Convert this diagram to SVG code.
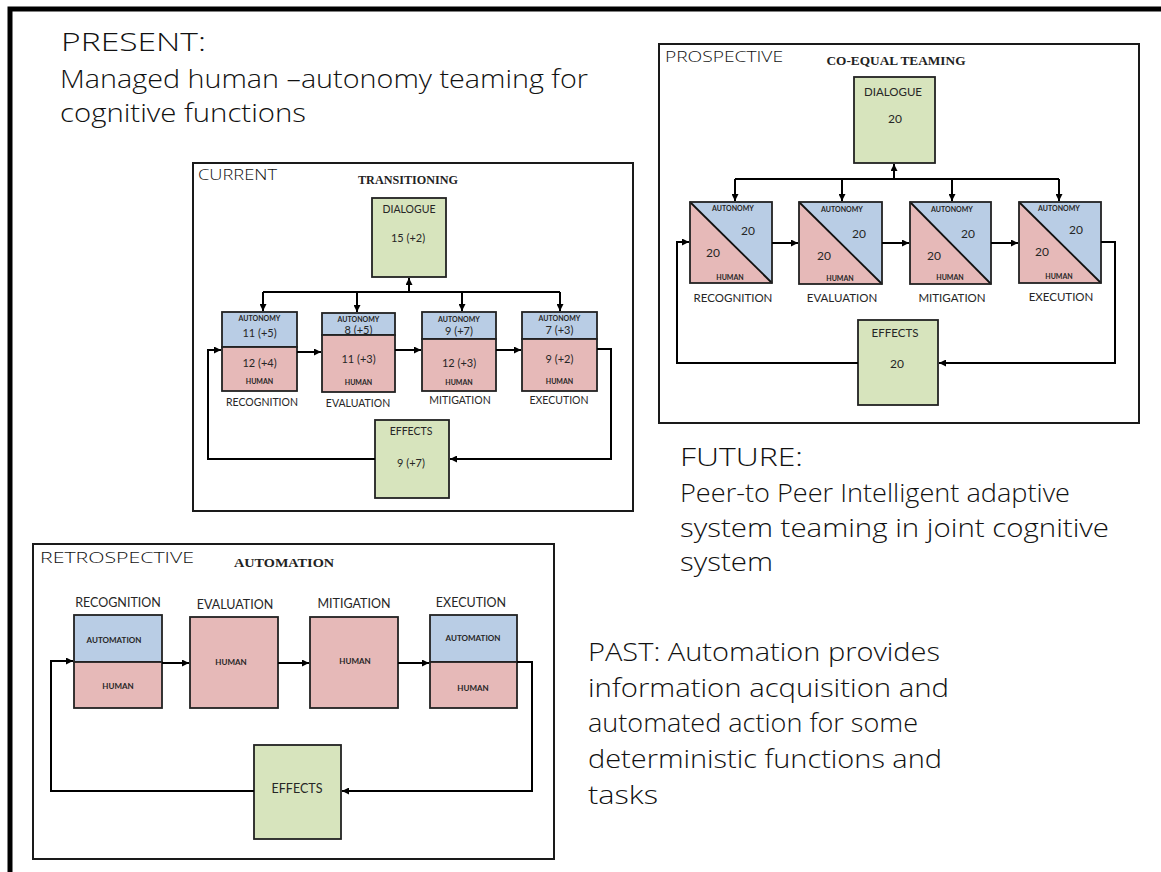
<svg xmlns="http://www.w3.org/2000/svg" width="1161" height="872" viewBox="0 0 1161 872">
  <defs>
    <marker id="ah" viewBox="0 0 8 8" refX="8" refY="4" markerWidth="7" markerHeight="7" orient="auto" markerUnits="userSpaceOnUse">
      <path d="M0,0 L8,4 L0,8 z" fill="#000"/>
    </marker>
  </defs>
  <style>
    .hand { font-family: "Open Sans", "DejaVu Sans", sans-serif; font-weight: 300; fill: #111; }
    .big { font-size: 25px; }
    .tag { font-size: 14px; }
    .title { font-family: "Liberation Serif", serif; font-weight: bold; fill: #222; }
    .panel { fill: #fff; stroke: #1a1a1a; stroke-width: 2; }
    .box { stroke: #222; stroke-width: 1.8; }
    .blue { fill: #b9cde5; }
    .pink { fill: #e6b9b8; }
    .green { fill: #d7e4bd; }
    .t { font-family: Lato, "Liberation Sans", sans-serif; fill: #262626; text-anchor: middle; dominant-baseline: central; }
    .tiny { font-size: 7px; font-weight: bold; }
    .small { font-size: 8px; font-weight: bold; }
    .n11 { font-size: 11px; }
    .n12 { font-size: 12px; }
    .lab105 { font-size: 10.5px; }
    .lab115 { font-size: 11.5px; }
    .lab125 { font-size: 12.5px; }
    .wire { fill: none; stroke: #000; stroke-width: 2; }
    .arrow { marker-end: url(#ah); }
  </style>

  <rect width="1161" height="872" fill="#fff"/>
  <!-- outer frame (top and left edges) -->
  <path d="M10,872 V9 H1161" fill="none" stroke="#000" stroke-width="5"/>

  <!-- headline texts -->
  <g id="present-text" class="hand big">
    <text x="61" y="51" textLength="145" lengthAdjust="spacingAndGlyphs">PRESENT:</text>
    <text x="60" y="88" textLength="528" lengthAdjust="spacingAndGlyphs">Managed human –autonomy teaming for</text>
    <text x="60" y="122" textLength="246" lengthAdjust="spacingAndGlyphs">cognitive functions</text>
  </g>
  <g id="future-text" class="hand big">
    <text x="680" y="466" textLength="123" lengthAdjust="spacingAndGlyphs">FUTURE:</text>
    <text x="680" y="502" textLength="390" lengthAdjust="spacingAndGlyphs">Peer-to Peer Intelligent adaptive</text>
    <text x="680" y="537" textLength="429" lengthAdjust="spacingAndGlyphs">system teaming in joint cognitive</text>
    <text x="680" y="571" textLength="93" lengthAdjust="spacingAndGlyphs">system</text>
  </g>
  <g id="past-text" class="hand big">
    <text x="588" y="661" textLength="352" lengthAdjust="spacingAndGlyphs">PAST: Automation provides</text>
    <text x="588" y="697" textLength="361" lengthAdjust="spacingAndGlyphs">information acquisition and</text>
    <text x="588" y="732" textLength="330" lengthAdjust="spacingAndGlyphs">automated action for some</text>
    <text x="588" y="768" textLength="354" lengthAdjust="spacingAndGlyphs">deterministic functions and</text>
    <text x="588" y="804" textLength="70" lengthAdjust="spacingAndGlyphs">tasks</text>
  </g>

  <!-- ===== CURRENT panel ===== -->
  <g id="current-panel">
    <rect class="panel" x="193" y="163" width="440" height="348"/>
    <text class="hand tag" x="198" y="180" textLength="79" lengthAdjust="spacingAndGlyphs">CURRENT</text>
    <text class="title" x="408" y="184" font-size="11.5" text-anchor="middle" textLength="100" lengthAdjust="spacingAndGlyphs">TRANSITIONING</text>
  </g>
  <g id="cur-dialogue">
    <rect class="box green" x="372" y="198" width="74" height="79"/>
    <text class="t lab105" x="409" y="209">DIALOGUE</text>
    <text class="t n11" x="408" y="237">15 (+2)</text>
  </g>
  <g id="cur-recognition">
    <rect class="box blue" x="222" y="312" width="75" height="35"/>
    <rect class="box pink" x="222" y="347" width="75" height="44"/>
    <text class="t tiny" x="259.5" y="318">AUTONOMY</text>
    <text class="t n11" x="259.5" y="332">11 (+5)</text>
    <text class="t n11" x="259.5" y="362">12 (+4)</text>
    <text class="t tiny" x="259.5" y="381">HUMAN</text>
    <text class="t lab105" x="262" y="402">RECOGNITION</text>
  </g>
  <g id="cur-evaluation">
    <rect class="box blue" x="322" y="313" width="73" height="22"/>
    <rect class="box pink" x="322" y="335" width="73" height="57"/>
    <text class="t tiny" x="358.5" y="319">AUTONOMY</text>
    <text class="t n11" x="358.5" y="329">8 (+5)</text>
    <text class="t n11" x="358.5" y="358">11 (+3)</text>
    <text class="t tiny" x="358.5" y="382">HUMAN</text>
    <text class="t lab105" x="358" y="403">EVALUATION</text>
  </g>
  <g id="cur-mitigation">
    <rect class="box blue" x="422" y="312" width="74" height="27"/>
    <rect class="box pink" x="422" y="339" width="74" height="52"/>
    <text class="t tiny" x="459" y="319">AUTONOMY</text>
    <text class="t n11" x="459" y="330">9 (+7)</text>
    <text class="t n11" x="459" y="362">12 (+3)</text>
    <text class="t tiny" x="459" y="382">HUMAN</text>
    <text class="t lab105" x="460" y="400">MITIGATION</text>
  </g>
  <g id="cur-execution">
    <rect class="box blue" x="522" y="312" width="75" height="27"/>
    <rect class="box pink" x="522" y="339" width="75" height="52"/>
    <text class="t tiny" x="559.5" y="318">AUTONOMY</text>
    <text class="t n11" x="559.5" y="329">7 (+3)</text>
    <text class="t n11" x="559.5" y="358">9 (+2)</text>
    <text class="t tiny" x="559.5" y="381">HUMAN</text>
    <text class="t lab105" x="559" y="400">EXECUTION</text>
  </g>
  <g id="cur-effects">
    <rect class="box green" x="375" y="420" width="74" height="78"/>
    <text class="t lab105" x="411" y="431">EFFECTS</text>
    <text class="t n11" x="411" y="462">9 (+7)</text>
  </g>

  <!-- ===== PROSPECTIVE panel ===== -->
  <g id="prospective-panel">
    <rect class="panel" x="659" y="44" width="480" height="379"/>
    <text class="hand tag" x="665" y="62" textLength="118" lengthAdjust="spacingAndGlyphs">PROSPECTIVE</text>
    <text class="title" x="896" y="65" font-size="12.5" text-anchor="middle" textLength="139" lengthAdjust="spacingAndGlyphs">CO-EQUAL TEAMING</text>
  </g>
  <g id="pro-dialogue">
    <rect class="box green" x="854" y="77" width="81" height="86"/>
    <text class="t lab115" x="893" y="91">DIALOGUE</text>
    <text class="t n12" x="895" y="118">20</text>
  </g>
  <g id="pro-recognition">
    <polygon class="pink" points="690,202 690,283 772,283"/>
    <polygon class="blue" points="690,202 772,202 772,283"/>
    <line x1="690" y1="202" x2="772" y2="283" stroke="#111" stroke-width="1.8"/>
    <rect class="box" fill="none" x="690" y="202" width="82" height="81"/>
    <text class="t tiny" x="733" y="208">AUTONOMY</text>
    <text class="t n12" x="748" y="230">20</text>
    <text class="t n12" x="713" y="252">20</text>
    <text class="t tiny" x="730" y="277">HUMAN</text>
    <text class="t lab115" x="733" y="297">RECOGNITION</text>
  </g>
  <g id="pro-evaluation">
    <polygon class="pink" points="799,202 799,284 882,284"/>
    <polygon class="blue" points="799,202 882,202 882,284"/>
    <line x1="799" y1="202" x2="882" y2="284" stroke="#111" stroke-width="1.8"/>
    <rect class="box" fill="none" x="799" y="202" width="83" height="82"/>
    <text class="t tiny" x="842" y="209">AUTONOMY</text>
    <text class="t n12" x="859" y="233">20</text>
    <text class="t n12" x="824" y="255">20</text>
    <text class="t tiny" x="840" y="278">HUMAN</text>
    <text class="t lab115" x="842" y="297">EVALUATION</text>
  </g>
  <g id="pro-mitigation">
    <polygon class="pink" points="910,202 910,284 991,284"/>
    <polygon class="blue" points="910,202 991,202 991,284"/>
    <line x1="910" y1="202" x2="991" y2="284" stroke="#111" stroke-width="1.8"/>
    <rect class="box" fill="none" x="910" y="202" width="81" height="82"/>
    <text class="t tiny" x="952" y="209">AUTONOMY</text>
    <text class="t n12" x="968" y="233">20</text>
    <text class="t n12" x="934" y="255">20</text>
    <text class="t tiny" x="950" y="277">HUMAN</text>
    <text class="t lab115" x="952" y="297">MITIGATION</text>
  </g>
  <g id="pro-execution">
    <polygon class="pink" points="1019,202 1019,283 1101,283"/>
    <polygon class="blue" points="1019,202 1101,202 1101,283"/>
    <line x1="1019" y1="202" x2="1101" y2="283" stroke="#111" stroke-width="1.8"/>
    <rect class="box" fill="none" x="1019" y="202" width="82" height="81"/>
    <text class="t tiny" x="1059" y="208">AUTONOMY</text>
    <text class="t n12" x="1076" y="229">20</text>
    <text class="t n12" x="1042" y="251">20</text>
    <text class="t tiny" x="1059" y="276">HUMAN</text>
    <text class="t lab115" x="1061" y="296">EXECUTION</text>
  </g>
  <g id="pro-effects">
    <rect class="box green" x="858" y="320" width="80" height="85"/>
    <text class="t lab115" x="895" y="332">EFFECTS</text>
    <text class="t n12" x="897" y="363">20</text>
  </g>

  <!-- ===== RETROSPECTIVE panel ===== -->
  <g id="retrospective-panel">
    <rect class="panel" x="33" y="544" width="521" height="315"/>
    <text class="hand tag" x="40" y="563" textLength="154" lengthAdjust="spacingAndGlyphs">RETROSPECTIVE</text>
    <text class="title" x="284" y="567" font-size="13" text-anchor="middle" textLength="100" lengthAdjust="spacingAndGlyphs">AUTOMATION</text>
  </g>
  <g id="ret-recognition">
    <rect class="box blue" x="74" y="615" width="88" height="47"/>
    <rect class="box pink" x="74" y="662" width="88" height="46"/>
    <text class="t small" x="114" y="640">AUTOMATION</text>
    <text class="t small" x="118" y="686">HUMAN</text>
    <text class="t lab125" x="118" y="602">RECOGNITION</text>
  </g>
  <g id="ret-evaluation">
    <rect class="box pink" x="190" y="617" width="88" height="91"/>
    <text class="t small" x="231" y="662">HUMAN</text>
    <text class="t lab125" x="235" y="604">EVALUATION</text>
  </g>
  <g id="ret-mitigation">
    <rect class="box pink" x="310" y="617" width="88" height="91"/>
    <text class="t small" x="355" y="661">HUMAN</text>
    <text class="t lab125" x="354" y="603">MITIGATION</text>
  </g>
  <g id="ret-execution">
    <rect class="box blue" x="430" y="615" width="87" height="47"/>
    <rect class="box pink" x="430" y="662" width="87" height="46"/>
    <text class="t small" x="473" y="638">AUTOMATION</text>
    <text class="t small" x="473" y="688">HUMAN</text>
    <text class="t lab125" x="471" y="602">EXECUTION</text>
  </g>
  <g id="ret-effects">
    <rect class="box green" x="254" y="745" width="87" height="94"/>
    <text class="t lab125" x="297" y="788">EFFECTS</text>
  </g>

  <!-- ===== connectors ===== -->
  <g id="connectors" class="wire">
    <!-- current -->
    <path class="arrow" d="M409,292 V278"/>
    <path d="M263,292 H560"/>
    <path class="arrow" d="M263,292 V311"/>
    <path class="arrow" d="M357,292 V312"/>
    <path class="arrow" d="M462,292 V311"/>
    <path class="arrow" d="M560,292 V311"/>
    <path class="arrow" d="M297,352 H321"/>
    <path class="arrow" d="M395,350 H421"/>
    <path class="arrow" d="M496,350 H521"/>
    <path class="arrow" d="M597,349 H611 V459 H450"/>
    <path class="arrow" d="M375,459 H208 V350 H221"/>
    <!-- prospective -->
    <path class="arrow" d="M894,179 V164"/>
    <path d="M735,179 H1059"/>
    <path class="arrow" d="M735,179 V201"/>
    <path class="arrow" d="M842,179 V201"/>
    <path class="arrow" d="M952,179 V201"/>
    <path class="arrow" d="M1059,179 V201"/>
    <path class="arrow" d="M772,243 H798"/>
    <path class="arrow" d="M882,243 H909"/>
    <path class="arrow" d="M991,243 H1018"/>
    <path class="arrow" d="M1101,242 H1115 V363 H939"/>
    <path class="arrow" d="M858,363 H677 V242 H689"/>
    <!-- retrospective -->
    <path class="arrow" d="M162,663 H189"/>
    <path class="arrow" d="M278,663 H309"/>
    <path class="arrow" d="M398,663 H429"/>
    <path class="arrow" d="M517,662 H532 V791 H342"/>
    <path class="arrow" d="M254,791 H51 V661 H73"/>
  </g>
</svg>
